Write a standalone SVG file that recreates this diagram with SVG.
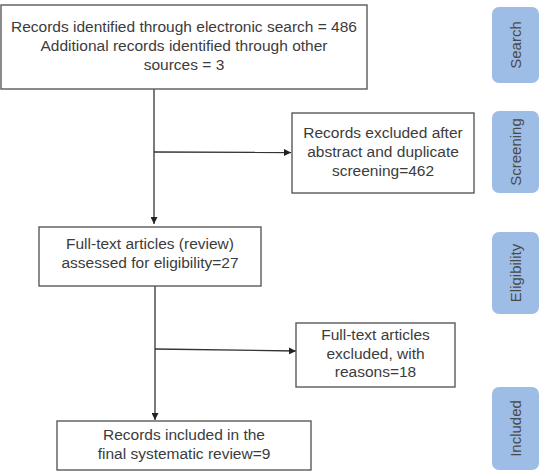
<svg xmlns="http://www.w3.org/2000/svg" width="540" height="472" viewBox="0 0 540 472">
<style>
.box{fill:#fff;stroke:#5a5a5a;stroke-width:1.4}
.t{font-family:"Liberation Sans",Arial,sans-serif;font-size:15.5px;fill:#3c3c3c;text-anchor:middle}
.side{fill:#9dbde6}
.st{font-family:"Liberation Sans",Arial,sans-serif;font-size:15px;fill:#4a4a4a;text-anchor:middle}
.ln{stroke:#333;stroke-width:1.3;fill:none}
</style>
<defs>
<marker id="ah" viewBox="0 0 10 10" refX="10" refY="5" markerWidth="7" markerHeight="7" markerUnits="userSpaceOnUse" orient="auto">
<path d="M0,0 L10,5 L0,10 z" fill="#222"/>
</marker>
</defs>
<g id="connectors">
<line class="ln" x1="154" y1="89" x2="154" y2="224" marker-end="url(#ah)"/>
<line class="ln" x1="154" y1="152" x2="291" y2="152.5" marker-end="url(#ah)"/>
<line class="ln" x1="155" y1="286" x2="155" y2="420" marker-end="url(#ah)"/>
<line class="ln" x1="155" y1="349" x2="296" y2="351" marker-end="url(#ah)"/>
</g>
<g id="n1">
<rect class="box" x="1" y="5" width="366" height="84"/>
<text class="t" x="184" y="32">Records identified through electronic search = 486</text>
<text class="t" x="184" y="51">Additional records identified through other</text>
<text class="t" x="184" y="70">sources = 3</text>
</g>
<g id="n2">
<rect class="box" x="292" y="113" width="182" height="80"/>
<text class="t" x="383" y="138">Records excluded after</text>
<text class="t" x="383" y="157">abstract and duplicate</text>
<text class="t" x="383" y="176">screening=462</text>
</g>
<g id="n3">
<rect class="box" x="39" y="227" width="222" height="59"/>
<text class="t" x="150" y="249">Full-text articles (review)</text>
<text class="t" x="150" y="268">assessed for eligibility=27</text>
</g>
<g id="n4">
<rect class="box" x="296" y="323" width="159" height="64"/>
<text class="t" x="375.5" y="340">Full-text articles</text>
<text class="t" x="375.5" y="359">excluded, with</text>
<text class="t" x="375.5" y="377">reasons=18</text>
</g>
<g id="n5">
<rect class="box" x="57" y="421" width="254" height="49"/>
<text class="t" x="184" y="440">Records included in the</text>
<text class="t" x="184" y="459">final systematic review=9</text>
</g>
<g id="s1">
<rect class="side" x="492" y="7" width="47" height="76" rx="7"/>
<text class="st" transform="translate(520.5,45) rotate(-90)">Search</text>
</g>
<g id="s2">
<rect class="side" x="492" y="111" width="47" height="82" rx="7"/>
<text class="st" transform="translate(520.5,152) rotate(-90)">Screening</text>
</g>
<g id="s3">
<rect class="side" x="492" y="232" width="47" height="82" rx="7"/>
<text class="st" transform="translate(520.5,273) rotate(-90)">Eligibility</text>
</g>
<g id="s4">
<rect class="side" x="492" y="387" width="47" height="83" rx="7"/>
<text class="st" transform="translate(520.5,428.5) rotate(-90)">Included</text>
</g>
</svg>
